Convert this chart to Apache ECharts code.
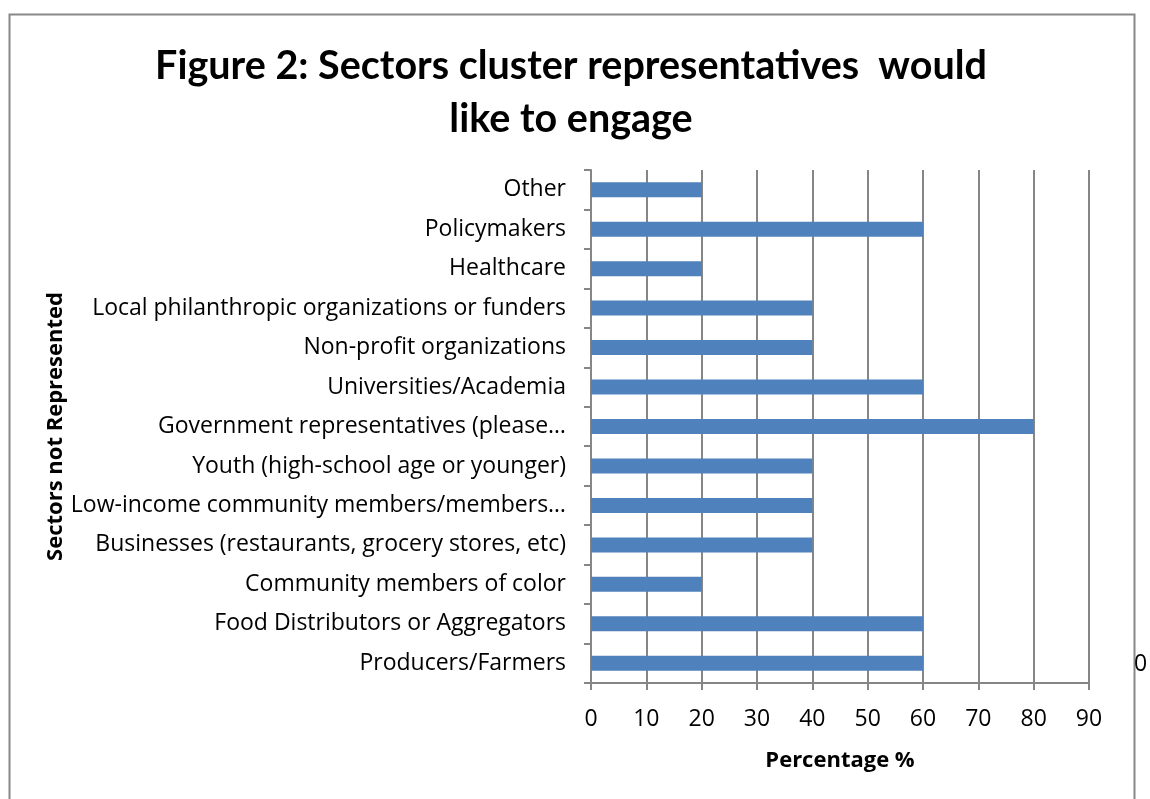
<!DOCTYPE html>
<html>
<head>
<meta charset="utf-8">
<script src="https://cdn.jsdelivr.net/npm/echarts@6/dist/echarts.min.js"></script>
<style>
    html, body {margin: 0; padding: 0; background: #fff;}
    #main {width: 1150px; height: 799px;}
</style>
</head>
<body>
<div id="main"></div>
<script>
// 类目（从下到上）
let categories = [
    'Producers/Farmers',
    'Food Distributors or Aggregators',
    'Community members of color',
    'Businesses (restaurants, grocery stores, etc)',
    'Low-income community members/members…',
    'Youth (high-school age or younger)',
    'Government representatives (please…',
    'Universities/Academia',
    'Non-profit organizations',
    'Local philanthropic organizations or funders',
    'Healthcare',
    'Policymakers',
    'Other'
];
let percentValues = [60, 60, 20, 40, 40, 40, 80, 60, 40, 40, 20, 60, 20];
let xTicks = [0, 10, 20, 30, 40, 50, 60, 70, 80, 90];

let fontTitle = 'Lato, sans-serif';
let fontLabel = '"Open Sans", sans-serif';
let myChart = echarts.init(document.getElementById('main'));
let option = {
    backgroundColor: '#fff',
    animation: false,
    title: {
        text: 'Figure 2: Sectors cluster representatives  would\nlike to engage',
        left: 566,
        top: 35,
        textAlign: 'center',
        textStyle: {
            fontFamily: fontTitle,
            fontWeight: 'bold',
            fontSize: 39.5,
            lineHeight: 53,
            color: '#000'
        }
    },
    grid: {
        left: 591,
        right: 61,
        top: 170,
        bottom: 116
    },
    xAxis: {
        type: 'value',
        min: xTicks[0],
        max: xTicks[xTicks.length - 1],
        interval: 10,
        name: 'Percentage %',
        nameLocation: 'middle',
        nameGap: 67,
        nameTextStyle: {fontFamily: fontLabel, fontWeight: 'bold', fontSize: 22, color: '#000'},
        axisLine: {show: true, lineStyle: {color: '#868686', width: 2}},
        axisTick: {show: true, length: 7, lineStyle: {color: '#868686', width: 2}},
        axisLabel: {fontFamily: fontLabel, fontSize: 23, color: '#000', margin: 25},
        splitLine: {show: true, lineStyle: {color: '#868686', width: 2}}
    },
    yAxis: {
        type: 'category',
        data: categories,
        name: 'Sectors not Represented',
        nameLocation: 'middle',
        nameGap: 514,
        nameRotate: 90,
        nameTextStyle: {fontFamily: fontLabel, fontWeight: 'bold', fontSize: 22, color: '#000'},
        axisLine: {show: true, lineStyle: {color: '#868686', width: 2}},
        axisTick: {show: true, length: 7, lineStyle: {color: '#868686', width: 2}},
        axisLabel: {fontFamily: fontLabel, fontSize: 23, color: '#000', margin: 25},
        splitLine: {show: false}
    },
    series: [
        {
            type: 'bar',
            data: percentValues,
            barWidth: 15,
            itemStyle: {color: '#4F81BD'}
        }
    ],
    graphic: [
        {
            type: 'rect',
            left: 7,
            top: 12,
            shape: {width: 1125, height: 800},
            style: {fill: 'none', stroke: '#888', lineWidth: 2},
            silent: true
        },
        {
            type: 'text',
            left: 1134,
            top: 653,
            style: {text: '0', font: '23px ' + fontLabel, fill: '#000'}
        }
    ]
};
myChart.setOption(option);
</script>
</body>
</html>
